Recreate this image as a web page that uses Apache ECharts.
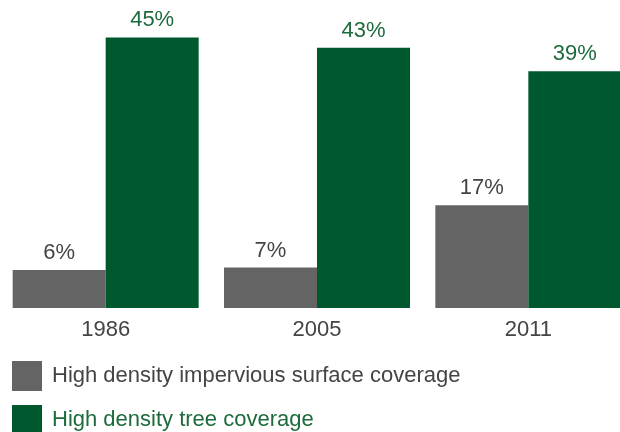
<!DOCTYPE html>
<html><head><meta charset="utf-8">
<script src="https://cdn.jsdelivr.net/npm/echarts@6/dist/echarts.min.js"></script>
<style>html,body{margin:0;padding:0;background:#fff}#c{width:620px;height:432px}</style>
</head><body><div id="c"></div>
<script>
const categories = ['1986', '2005', '2011'];
const imperviousName = 'High density impervious surface coverage';
const treeName = 'High density tree coverage';
const impervious = [6.3, 6.7, 17];
const tree = [44.8, 43.1, 39.2];

const GRAY = '#646464', GREEN = '#00582e';
const GRAY_TXT = '#444444', GREEN_TXT = '#1d6b3d';
const FONT = 'Liberation Sans';
const FS = 22;
const pct = p => Math.round(p.value) + '%';

const chart = echarts.init(document.getElementById('c'));
chart.setOption({
  animation: false,
  grid: { left: 0, width: 634, top: 6, height: 302, outerBoundsMode: 'none', containLabel: false },
  xAxis: {
    type: 'category', data: categories,
    axisLine: { show: false }, axisTick: { show: false },
    axisLabel: { color: GRAY_TXT, fontSize: FS, fontFamily: FONT, margin: 11 }
  },
  yAxis: { type: 'value', min: 0, max: 50, show: false, splitLine: { show: false } },
  legend: {
    orient: 'vertical', left: 12, top: 361, height: 120, padding: 0,
    itemWidth: 30, itemHeight: 30, itemGap: 14,
    icon: 'rect',
    textStyle: { fontSize: FS, fontFamily: FONT, padding: [0, 0, 0, 5] },
    data: [
      { name: imperviousName, textStyle: { color: GRAY_TXT } },
      { name: treeName, textStyle: { color: GREEN_TXT } }
    ]
  },
  series: [
    {
      name: imperviousName, type: 'bar', data: impervious, barWidth: 93, barGap: '0%',
      itemStyle: { color: GRAY },
      label: { show: true, position: 'top', distance: 6, formatter: pct, color: GRAY_TXT, fontSize: FS, fontFamily: FONT }
    },
    {
      name: treeName, type: 'bar', data: tree, barWidth: 93,
      itemStyle: { color: GREEN },
      label: { show: true, position: 'top', distance: 6, formatter: pct, color: GREEN_TXT, fontSize: FS, fontFamily: FONT }
    }
  ]
});
</script></body></html>
